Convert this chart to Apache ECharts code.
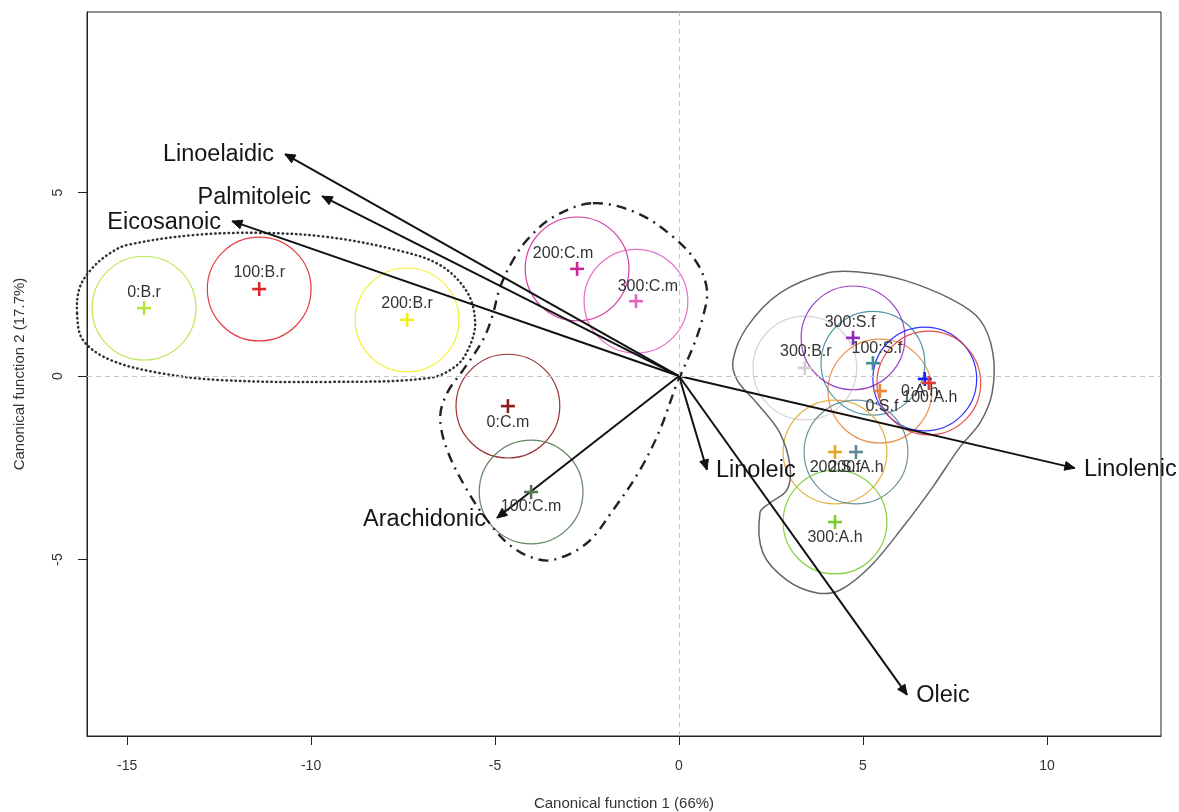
<!DOCTYPE html>
<html>
<head>
<meta charset="utf-8">
<script src="https://cdn.jsdelivr.net/npm/echarts@6/dist/echarts.min.js"></script>
<style>
  html, body { margin: 0; padding: 0; background: #ffffff; }
  #chart { width: 1179px; height: 812px; }
</style>
</head>
<body>
<div id="chart"></div>
<script>
// Group centroids on the two canonical functions
const groupNames = ['0:B.r', '100:B.r', '200:B.r', '300:B.r',
                    '0:C.m', '100:C.m', '200:C.m', '300:C.m',
                    '0:S.f', '100:S.f', '200:S.f', '300:S.f',
                    '0:A.h', '100:A.h', '200:A.h', '300:A.h'];
const groupX = [-14.54, -11.41, -7.39, 3.42,
                -4.65, -4.02, -2.77, -1.17,
                5.46, 5.27, 4.24, 4.73,
                6.68, 6.79, 4.81, 4.24];
const groupY = [1.85, 2.37, 1.53, 0.22,
                -0.82, -3.16, 2.92, 2.04,
                -0.41, 0.35, -2.07, 1.04,
                -0.08, -0.19, -2.07, -3.98];
// Confidence circle radius (canonical units)
const circleRadius = 1.41;

// Structure coefficients drawn as arrows from the origin
const loadingNames = ['Linoelaidic', 'Palmitoleic', 'Eicosanoic', 'Arachidonic', 'Linoleic', 'Linolenic', 'Oleic'];
const loadingX = [-10.71, -9.70, -12.15, -4.95, 0.76, 10.76, 6.20];
const loadingY = [6.05, 4.90, 4.22, -3.87, -2.56, -2.51, -8.69];

// Outlines enclosing the species clusters (canonical units)
const hullBr = [[-16.36, 1.72], [-16.28, 2.43], [-15.92, 2.97], [-15.46, 3.35], [-15.00, 3.57],
                [-13.21, 3.84], [-11.39, 3.90], [-9.57, 3.79], [-7.66, 3.43], [-6.49, 3.02],
                [-5.76, 2.29], [-5.54, 1.47], [-5.68, 0.84], [-6.03, 0.30], [-6.77, -0.05],
                [-9.48, -0.16], [-12.47, -0.11], [-14.10, 0.08], [-15.46, 0.44], [-16.20, 0.98]];
const hullCm = [[-2.34, 4.71], [-1.14, 4.44], [-0.16, 3.79], [0.49, 3.08], [0.76, 2.34],
                [0.65, 1.61], [0.38, 0.79], [-0.05, -0.19], [-0.52, -1.47], [-1.06, -2.56],
                [-1.79, -3.65], [-2.50, -4.55], [-3.42, -5.01], [-4.05, -4.93], [-4.67, -4.55],
                [-5.22, -3.92], [-5.76, -3.11], [-6.30, -2.02], [-6.49, -1.12], [-6.30, -0.46],
                [-5.87, 0.16], [-5.33, 0.98], [-5.08, 1.61], [-4.86, 2.43], [-4.51, 3.16],
                [-4.13, 3.71], [-3.42, 4.33]];
const hullRest = [[1.47, 0.44], [1.85, 1.34], [2.74, 2.26], [4.02, 2.81], [4.92, 2.83],
                  [6.09, 2.62], [7.45, 2.07], [8.18, 1.53], [8.53, 0.63], [8.51, -0.46],
                  [8.18, -1.28], [7.64, -1.93], [6.90, -3.02], [6.09, -4.11], [5.19, -5.20],
                  [4.38, -5.83], [3.75, -5.91], [2.93, -5.56], [2.28, -4.82], [2.20, -3.73],
                  [2.47, -3.46], [2.93, -3.11], [3.02, -2.48], [2.74, -1.55], [2.12, -0.74],
                  [1.58, -0.11]];

// Axis ticks
const xTicks = [-15, -10, -5, 0, 5, 10];
const yTicks = [-5, 0, 5];

// Styling
const groupColors = ['#b2e63c', '#e0262c', '#f0ee1c', '#cfcfcf',
                     '#8e1c1c', '#52774f', '#cc2298', '#e064c2',
                     '#e8853c', '#3f8e9a', '#e2a82c', '#8e2cbe',
                     '#1c1cff', '#e63838', '#5f8898', '#7acb2c'];
// label placement relative to each centroid cross, in pixels
const labelOffset = {
  '0:B.r': [0, -16], '100:B.r': [0, -16], '200:B.r': [0, -16], '300:B.r': [1, -16],
  '0:C.m': [0, 16], '100:C.m': [0, 15], '200:C.m': [-14, -15], '300:C.m': [12, -15],
  '0:S.f': [2, 16], '100:S.f': [4, -15], '200:S.f': [0, 16], '300:S.f': [-3, -15],
  '0:A.h': [-5, 13], '100:A.h': [1, 15], '200:A.h': [0, 16], '300:A.h': [0, 16]
};
const FONT = '"Liberation Sans", Arial, Helvetica, sans-serif';

const chart = echarts.init(document.getElementById('chart'), null, { renderer: 'canvas' });

function hullSeries(points, style) {
  return {
    type: 'custom',
    coordinateSystem: 'cartesian2d',
    clip: false,
    silent: true,
    z: 3,
    data: [points[0]],
    renderItem: function (params, api) {
      return {
        type: 'polygon',
        shape: { points: points.map(function (p) { return api.coord(p); }), smooth: 0.35 },
        style: Object.assign({ fill: 'none' }, style)
      };
    }
  };
}

const option = {
  backgroundColor: '#ffffff',
  animation: false,
  grid: {
    left: 87, top: 12, right: 18, bottom: 76,
    show: true, borderColor: '#222', borderWidth: 1,
    containLabel: false, outerBoundsMode: 'none'
  },
  xAxis: {
    type: 'value', min: -16.09, max: 13.10,
    axisLine: { show: true, onZero: false, lineStyle: { color: '#222', width: 1 } },
    axisTick: { show: true, customValues: xTicks, length: 9, lineStyle: { color: '#222' } },
    axisLabel: { customValues: xTicks, margin: 23, fontSize: 14, color: '#333', fontFamily: FONT },
    splitLine: { show: false },
    name: 'Canonical function 1 (66%)', nameLocation: 'middle', nameGap: 60,
    nameTextStyle: { fontSize: 15, color: '#333', fontFamily: FONT }
  },
  yAxis: {
    type: 'value', min: -9.81, max: 9.92,
    axisLine: { show: true, onZero: false, lineStyle: { color: '#222', width: 1 } },
    axisTick: { show: true, customValues: yTicks, length: 9, lineStyle: { color: '#222' } },
    axisLabel: { customValues: yTicks, margin: 22, rotate: 90, fontSize: 14, color: '#333', fontFamily: FONT },
    splitLine: { show: false },
    name: 'Canonical function 2 (17.7%)', nameLocation: 'middle', nameGap: 60,
    nameTextStyle: { fontSize: 15, color: '#333', fontFamily: FONT }
  },
  series: [
    // dashed reference lines through the origin
    {
      type: 'line', data: [], silent: true, z: 1,
      markLine: {
        silent: true, symbol: 'none', label: { show: false },
        lineStyle: { color: '#c4c4c4', type: [5, 4], width: 1 },
        data: [{ xAxis: 0 }, { yAxis: 0 }]
      }
    },
    // confidence circles
    {
      type: 'custom', coordinateSystem: 'cartesian2d', silent: true, z: 2, clip: false,
      data: groupNames.map(function (n, i) { return [groupX[i], groupY[i]]; }),
      renderItem: function (params, api) {
        const c = api.coord([api.value(0), api.value(1)]);
        const r = api.size([circleRadius, circleRadius])[0];
        return {
          type: 'circle',
          shape: { cx: c[0], cy: c[1], r: r },
          style: { fill: 'none', stroke: groupColors[params.dataIndex], lineWidth: 1.2, opacity: 0.9 }
        };
      }
    },
    hullSeries(hullBr, { stroke: '#333', lineWidth: 2.5, lineDash: [0.5, 4], lineCap: 'round' }),
    hullSeries(hullCm, { stroke: '#222', lineWidth: 2.4, lineDash: [10, 6, 2, 6] }),
    hullSeries(hullRest, { stroke: '#666', lineWidth: 1.5 }),
    // arrows
    {
      type: 'custom', coordinateSystem: 'cartesian2d', silent: true, z: 4, clip: false,
      data: loadingNames.map(function (n, i) { return [loadingX[i], loadingY[i]]; }),
      renderItem: function (params, api) {
        const o = api.coord([0, 0]);
        const t = api.coord([api.value(0), api.value(1)]);
        const ang = Math.atan2(t[1] - o[1], t[0] - o[0]);
        const L = 11, a = Math.PI / 7.5;
        const h1 = [t[0] - L * Math.cos(ang - a), t[1] - L * Math.sin(ang - a)];
        const h2 = [t[0] - L * Math.cos(ang + a), t[1] - L * Math.sin(ang + a)];
        const right = api.value(0) > 0;
        return {
          type: 'group',
          children: [
            { type: 'line', shape: { x1: o[0], y1: o[1], x2: t[0], y2: t[1] },
              style: { stroke: '#111', lineWidth: 2 } },
            { type: 'polygon', shape: { points: [h1, t, h2] },
              style: { fill: '#111', stroke: '#111', lineWidth: 1 } },
            { type: 'text', x: t[0] + (right ? 9 : -11), y: t[1] + 1,
              style: { text: loadingNames[params.dataIndex], align: right ? 'left' : 'right',
                       verticalAlign: 'middle', fontSize: 23.5, fill: '#151515', fontFamily: FONT } }
          ]
        };
      }
    },
    // centroid crosses and labels
    {
      type: 'custom', coordinateSystem: 'cartesian2d', silent: true, z: 5, clip: false,
      data: groupNames.map(function (n, i) { return [groupX[i], groupY[i]]; }),
      renderItem: function (params, api) {
        const c = api.coord([api.value(0), api.value(1)]);
        const col = groupColors[params.dataIndex];
        const name = groupNames[params.dataIndex];
        const off = labelOffset[name];
        const s = 7;
        return {
          type: 'group',
          children: [
            { type: 'line', shape: { x1: c[0] - s, y1: c[1], x2: c[0] + s, y2: c[1] },
              style: { stroke: col, lineWidth: 2.6 } },
            { type: 'line', shape: { x1: c[0], y1: c[1] - s, x2: c[0], y2: c[1] + s },
              style: { stroke: col, lineWidth: 2.6 } },
            { type: 'text', x: c[0] + off[0], y: c[1] + off[1],
              style: { text: name, align: 'center', verticalAlign: 'middle',
                       fontSize: 16, fill: '#333', fontFamily: FONT } }
          ]
        };
      }
    }
  ]
};

chart.setOption(option);
</script>
</body>
</html>
